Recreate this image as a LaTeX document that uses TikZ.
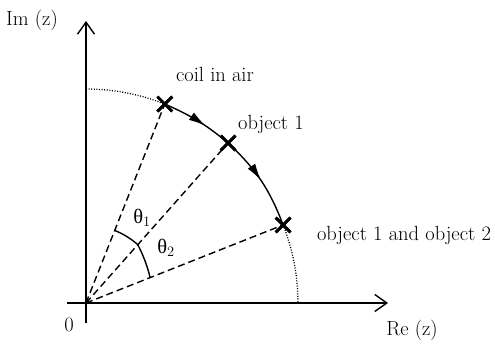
\documentclass[tikz,border=0pt]{standalone}
\usepackage{fontspec}
\newfontfamily\greekfont{Liberation Serif}
\usepackage{tikz}
\usetikzlibrary{arrows.meta, calc, shapes.misc, decorations.markings}
\tikzset{
  axis/.style      = {-{Straight Barb[length=12pt,width=17pt]}, line width=1.4pt},
  radial/.style    = {line width=1.4pt, dash pattern=on 7pt off 4pt},
  locus/.style     = {line width=1.3pt, dash pattern=on 1pt off 1.6pt},
  marker/.style    = {cross out, draw, line width=2.8pt, minimum size=12pt, inner sep=0pt},
  flow/.style      = {line width=1.4pt, postaction={decorate},
                      decoration={markings, mark=at position #1 with {\arrow{Latex[length=17pt,width=9pt]}}}},
  anglemark/.style = {line width=1.4pt},
  lab/.style       = {font=\fontsize{20.5}{24}\selectfont, inner sep=0pt},
}

\begin{document}
\begin{tikzpicture}[x=1pt, y=1pt]
\useasboundingbox (0,0) rectangle (495,345);

% ---------- Axes ----------
\coordinate (O) at (86,42);
\coordinate (xstart) at (67,42);
\coordinate (xend) at (388,42);
\coordinate (ystart) at (86,22);
\coordinate (yend) at (86,324);
\draw[axis] (xstart) -- (xend);
\draw[axis] (ystart) -- (yend);

% ---------- Measured points ----------
\node[marker] (coil)  at ($(O)+(68.4:214)$) {};
\node[marker] (obj1)  at ($(O)+(48.4:214)$) {};
\node[marker] (obj12) at ($(O)+(21.6:212)$) {};

% ---------- Locus ----------
\draw[locus] ($(O)+(90:214)$) arc[start angle=90, end angle=68.4, radius=214];
\draw[locus] (obj12.center) arc[start angle=21.6, end angle=0, radius=211];

% ---------- Phasors ----------
\draw[radial] (O) -- (coil.center);
\draw[radial] (O) -- (obj1.center);
\draw[radial] (O) -- (obj12.center);

% ---------- Path of the point ----------
\draw[flow=0.62] (coil.center) to[bend left=8] (obj1.center);
\draw[flow=0.5] (obj1.center) to[bend left=13] (obj12.center);
\node[marker] at (coil) {};
\node[marker] at (obj1) {};
\node[marker] at (obj12) {};

% ---------- Angles ----------
\draw[anglemark] ($(O)+(68.4:78)$) arc[start angle=68.4, end angle=48.4, radius=78]
  to[bend left=6] ($(O)+(21.6:69)$);
\node[lab] (th1) at (142,127) {{\greekfont θ}$_1$};
\node[lab] (th2) at (166,97) {{\greekfont θ}$_2$};

% ---------- Labels ----------
\node[lab] (imlab)   at (32,325) {Im (z)};
\node[lab] (relab)   at (412,15) {Re (z)};
\node[lab] (zerolab) at (69,20) {0};
\node[lab] (coillab) at (215,271) {coil in air};
\node[lab] (obj1lab) at (271,221) {object 1};
\node[lab] (obj12lab) at (404,110) {object 1 and object 2};

\end{tikzpicture}
\end{document}
